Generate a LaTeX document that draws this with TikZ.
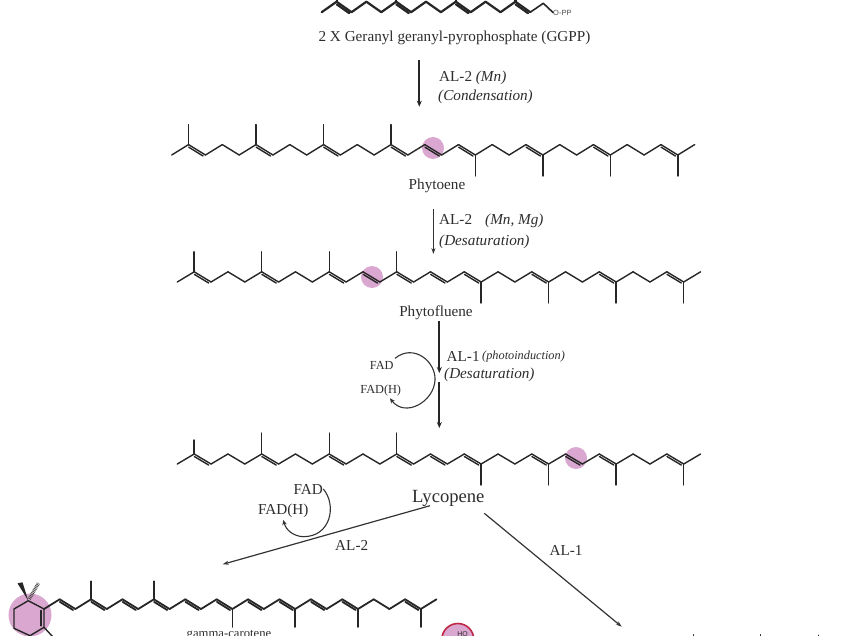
\documentclass[tikz,border=0pt]{standalone}
\usepackage{fontspec}
\setmainfont{Liberation Serif}
\newfontfamily\labelsans{Liberation Sans}
\definecolor{ringpink}{RGB}{217, 167, 207}
\definecolor{ringred}{RGB}{190, 40, 70}
\definecolor{inkgrey}{RGB}{45, 45, 45}
\usetikzlibrary{arrows.meta, calc}

% name, x0, step, y low, y high, last vertex, double bonds, methyls
\newcommand{\polyene}[8]{%
  \foreach \i in {0,...,#6}{
    \pgfmathsetmacro{\vx}{#2+\i*#3}
    \pgfmathsetmacro{\vy}{isodd(\i)?#5:#4}
    \coordinate (#1-\i) at (\vx,\vy);
  }
  \foreach \i [remember=\i as \j (initially 0)] in {1,...,#6}{
    \draw[bond] (#1-\j) -- (#1-\i);
  }
  \foreach \i in {#7}{
    \pgfmathtruncatemacro{\k}{\i+1}
    \draw[bond, shorten >=1.5pt, shorten <=1.5pt] ([shift={(-1.1,1.8)}]#1-\i) -- ([shift={(-1.1,1.8)}]#1-\k);
  }
  \foreach \i/\d in {#8}{
    \draw[bond] (#1-\i) -- ++(0,\d);
  }
}

\begin{document}
\begin{tikzpicture}[
  x=1pt, y=-1pt,
  bond/.style={line width=1.4pt, line cap=round, line join=round, black!85},
  spot/.style={circle, fill=ringpink, draw=none, minimum size=22pt, inner sep=0pt},
  txt/.style={text=inkgrey, inner sep=0pt, font=\fontsize{15.2}{17}\selectfont},
  small/.style={text=inkgrey, inner sep=0pt, font=\fontsize{12.3}{14}\selectfont},
  fat/.style={-{Stealth[length=6pt, width=5pt]}, line width=2pt, black!85},
  slim/.style={-{Stealth[length=6pt, width=4pt]}, line width=1pt, black!80},
  loopy/.style={-{Stealth[length=5pt, width=4.5pt]}, line width=1.1pt, black!80}
]
\useasboundingbox (0,0) rectangle (850,636);
\clip (0,0) rectangle (850,636);

% pink spots go under the chains
\node[spot] (spotA) at (433,148) {};
\node[spot] (spotB) at (372,277) {};
\node[spot] (spotC) at (576,458) {};
\node[spot, minimum size=43pt] (spotD) at (30,615) {};

% GGPP
\begin{scope}[bond/.append style={line width=2.2pt}]
\polyene{ggpp}{321.7}{14.9}{12.2}{1.7}{14}{1,5,9,13}{1/-10,5/-10,9/-10,13/-10}
\end{scope}
\node[anchor=west, inner sep=0pt, text=black!70, font=\labelsans\fontsize{7.5}{9}\selectfont] (opp) at (553,12.5) {O-PP};
\coordinate (ggppA) at (543.3,3.3);
\draw[bond, line width=1.6pt] (ggpp-14) -- (ggppA) -- (opp.west);
\node[txt, anchor=base] (ggpplabel) at (454.5,42) {2 X Geranyl geranyl-pyrophosphate (GGPP)};

\coordinate (a1top) at (419.3,60);
\coordinate (a1end) at (419.3,106.7);
\draw[fat] (a1top) -- (a1end);
\node[txt, anchor=base west] (a1txt) at (439,81.5) {AL-2 \textit{(Mn)}};
\node[txt, anchor=base west] (a1sub) at (438,101) {\textit{(Condensation)}};

% phytoene
\polyene{phe}{171.7}{16.87}{155}{144.6}{31}{1,5,9,13,15,17,21,25,29}{1/-20,5/-20,9/-20,13/-20,18/21,22/21,26/21,30/21}
\node[txt, anchor=base] (phytoene) at (437,190) {Phytoene};

\coordinate (a2top) at (433.4,209);
\coordinate (a2end) at (433.4,254);
\draw[slim] (a2top) -- (a2end);
\node[txt, anchor=base west] (a2txt) at (439,224) {AL-2};
\node[txt, anchor=base west] (a2ion) at (485,224) {\textit{(Mn, Mg)}};
\node[txt, anchor=base west] (a2sub) at (439,245) {\textit{(Desaturation)}};

% phytofluene
\polyene{pfl}{177.3}{16.88}{282}{271.8}{31}{1,5,9,11,13,15,17,21,25,29}{1/-20,5/-20,9/-20,13/-20,18/21,22/21,26/21,30/21}
\node[txt, anchor=base] (phytofluene) at (436,316) {Phytofluene};

\coordinate (a3top) at (439.3,321);
\coordinate (a3mid) at (439.3,373);
\coordinate (a3low) at (439.3,381.7);
\coordinate (a3end) at (439.3,428);
\draw[fat] (a3top) -- (a3mid);
\draw[fat] (a3low) -- (a3end);
\node[txt, anchor=base west] (a3txt) at (446.5,361) {AL-1};
\node[anchor=base west, inner sep=0pt, text=inkgrey, font=\fontsize{12.3}{14}\selectfont] (a3ind) at (482,359) {\textit{(photoinduction)}};
\node[txt, anchor=base west] (a3sub) at (444,378) {\textit{(Desaturation)}};
\node[small] (fadA) at (381.7,365) {FAD};
\node[small] (fadhA) at (380.7,390.7) {FAD(H)};
\coordinate (fadAout) at (395,358.3);
\coordinate (fadAin) at (390,398.3);
\draw[loopy] (fadAout) .. controls (414,343) and (436,362) .. (435,380) .. controls (434,402) and (405,418) .. (fadAin);

% lycopene
\polyene{lyc}{177.3}{16.88}{464}{454}{31}{1,5,9,13,15,17,21,23,25,29}{1/-14,5/-21,9/-21,13/-21,18/21,22/21,26/21,30/21}
\node[txt, anchor=base, font=\fontsize{18.6}{20}\selectfont] (lycopene) at (448.3,502) {Lycopene};

\node[txt] (fadB) at (308.3,489.3) {FAD};
\node[txt] (fadhB) at (283.3,511) {FAD(H)};
\coordinate (fadBout) at (323.3,489);
\coordinate (fadBin) at (283.3,520);
\draw[loopy] (fadBout) .. controls (337,505) and (331,537) .. (303,536.7) .. controls (293,536) and (286,530) .. (fadBin);

\coordinate (a4top) at (430,505.7);
\coordinate (a4end) at (222.7,564.3);
\draw[slim, line width=1.2pt] (a4top) -- (a4end);
\node[txt] (a4txt) at (351.7,545) {AL-2};

\coordinate (a5top) at (484.3,513.3);
\coordinate (a5end) at (621.7,626.7);
\draw[slim, line width=1.2pt] (a5top) -- (a5end);
\node[txt] (a5txt) at (566,550) {AL-1};

% gamma-carotene
\begin{scope}[bond/.append style={line width=1.8pt}]
\polyene{gam}{44}{15.7}{609}{599.3}{25}{1,3,5,7,9,11,13,15,17,19,23}{3/-18,7/-18,12/18,16/18,20/18,24/18}
\coordinate (ringA) at (28.3,600.7);
\coordinate (ringB) at (44,627.3);
\coordinate (ringC) at (30,635.7);
\coordinate (ringD) at (14,628.3);
\coordinate (ringE) at (14,609);
\coordinate (ringM) at (53,637);
\draw[bond, line width=1.4pt] (gam-0) -- (ringB) -- (ringC) -- (ringD) -- (ringE) -- (ringA) -- (gam-0);
\draw[bond, line width=1.4pt] ([xshift=-3pt, yshift=-1.5pt]gam-0) -- ([xshift=-3pt, yshift=1.5pt]ringB);
\draw[bond, line width=1.4pt] (ringB) -- (ringM);
\end{scope}
\coordinate (wedgeA) at (20,583.3);
\coordinate (wedgeB) at (38.3,583.3);
\fill[black!85] (ringA) -- ([xshift=-2.5pt]wedgeA) -- ([xshift=2.5pt, yshift=1pt]wedgeA) -- cycle;
\draw[dash pattern=on 0.8pt off 0.8pt, line width=3.5pt, black!70, shorten <=2pt] (ringA) -- (wedgeB);
\node[anchor=base, inner sep=0pt, text=inkgrey, font=\fontsize{12.7}{14}\selectfont] (gamlabel) at (229,637.5) {gamma-carotene};

% what shows of the next structures
\node[circle, draw=ringred, fill=ringpink, line width=1.6pt, minimum size=32pt, inner sep=0pt] (hoball) at (457.8,639.5) {};
\node[anchor=base, inner sep=0pt, text=inkgrey, font=\labelsans\fontsize{7}{8}\selectfont] (ho) at (462.5,636) {HO};
\coordinate (tipA) at (693.5,634.5);
\coordinate (tipB) at (760,634.5);
\coordinate (tipC) at (818,635);
\draw[bond, line width=1pt] (tipA) -- ++(0,3);
\draw[bond, line width=1pt] (tipB) -- ++(0,3);
\draw[bond, line width=1pt] (tipC) -- ++(0,3);
\end{tikzpicture}
\end{document}
